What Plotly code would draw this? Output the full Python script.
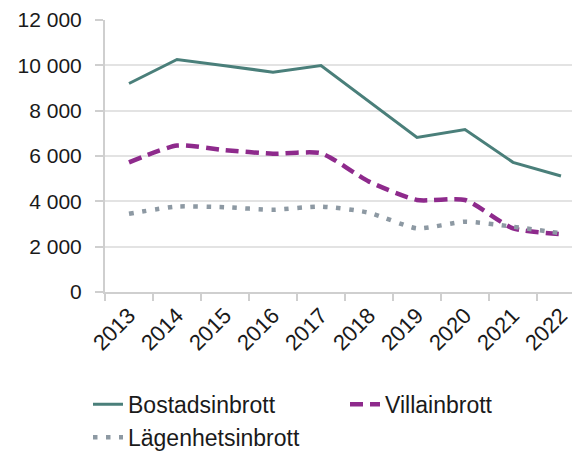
import plotly.graph_objects as go

years = ["2013", "2014", "2015", "2016", "2017", "2018", "2019", "2020", "2021", "2022"]
bostadsinbrott = [9200, 10260, 9980, 9700, 9990, 8410, 6820, 7170, 5720, 5120]
villainbrott = [5720, 6460, 6260, 6100, 6120, 4870, 4060, 4060, 2810, 2550]
lagenhetsinbrott = [3450, 3770, 3740, 3630, 3770, 3500, 2810, 3100, 2880, 2590]
y_ticks = [0, 2000, 4000, 6000, 8000, 10000, 12000]
y_ticktext = ["0", "2 000", "4 000", "6 000", "8 000", "10 000", "12 000"]

FONT = "Liberation Sans, Arial, sans-serif"

fig = go.Figure()
fig.add_trace(go.Scatter(x=years, y=bostadsinbrott, name="Bostadsinbrott", mode="lines",
                         line=dict(color="#4a7f7a", width=3)))
fig.add_trace(go.Scatter(x=years, y=villainbrott, name="Villainbrott", mode="lines",
                         line=dict(color="#8e2a8c", width=4.5, dash="13px,7px", shape="spline", smoothing=0.6)))
fig.add_trace(go.Scatter(x=years, y=lagenhetsinbrott, name="Lägenhetsinbrott", mode="lines",
                         line=dict(color="#8d99a3", width=4.5, dash="4.5px,8.5px", shape="spline", smoothing=0.6)))

# page body has an 8px margin, so the figure is 572x451 and offset accordingly
fig.update_layout(
    width=572, height=451,
    margin=dict(l=97, r=0, t=12, b=167, autoexpand=False),
    paper_bgcolor="white", plot_bgcolor="white",
    font=dict(family=FONT, size=22, color="#1a1a1a"),
    showlegend=True,
    legend=dict(orientation="h", xref="paper", x=-0.0358, xanchor="left",
                yref="paper", y=-0.334, yanchor="top",
                font=dict(size=23, color="#1a1a1a"), entrywidth=212, bgcolor="rgba(0,0,0,0)"),
    xaxis=dict(type="category", range=[-0.5, 9.396], tickson="boundaries", ticks="outside",
               ticklen=7, tickcolor="#cfcfcf", tickwidth=2, showline=True, linecolor="#cfcfcf",
               linewidth=2, showgrid=False, tickangle=-45, tickfont=dict(size=22), automargin=False,
               ticklabeloverflow="allow"),
    yaxis=dict(range=[0, 12000], tickvals=y_ticks, ticktext=y_ticktext, ticks="outside",
               ticklen=8, tickcolor="#cfcfcf", tickwidth=2, showline=True, linecolor="#cfcfcf",
               linewidth=2, showgrid=True, gridcolor="#e3e3e3", gridwidth=1.5, zeroline=False,
               ticklabelstandoff=9, tickfont=dict(size=21), automargin=False,
               ticklabeloverflow="allow"),
)

fig.write_html("out.html")
